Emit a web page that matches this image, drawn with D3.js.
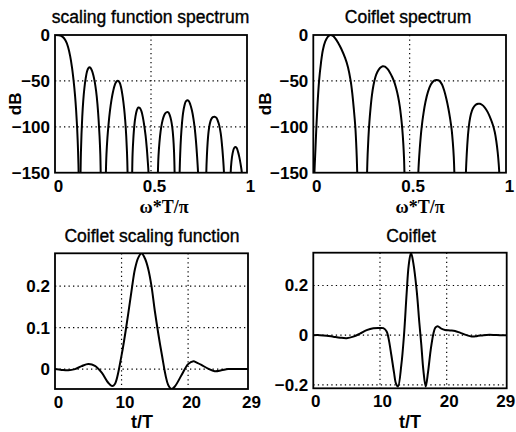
<!DOCTYPE html>
<html><head><meta charset="utf-8">
<script src="https://cdn.jsdelivr.net/npm/d3@7"></script>
<style>body{margin:0;background:#fff}</style>
</head><body><svg id="c" width="516" height="432"></svg>
<script>
// ---------- data ----------
const specXTicks = [0, 0.5, 1];
const specYTicks = [0, -50, -100, -150];
const timeXTicks = [0, 10, 20, 29];
const scalingYTicks = [0, 0.1, 0.2];
const waveletYTicks = [-0.2, 0, 0.2];

// scaling function spectrum lobes: [omega*T/pi, dB]
const sfLobe1 = [[0,0],[0.02,-0.4],[0.04,-2],[0.055,-6],[0.068,-13],[0.079,-23],[0.089,-36],[0.097,-50],[0.104,-65],[0.11,-82],[0.115,-100],[0.119,-120],[0.122,-140],[0.123,-150],[0.124,-165]];
const sfLobe2 = [[0.132,-165],[0.133,-150],[0.135,-128],[0.138,-108],[0.142,-89],[0.147,-72],[0.153,-58],[0.16,-47],[0.167,-39.5],[0.174,-36],[0.18,-35],[0.186,-36],[0.193,-39],[0.2,-44],[0.207,-51],[0.214,-61],[0.221,-75],[0.227,-92],[0.232,-110],[0.236,-130],[0.238,-150],[0.239,-165]];
const sfLobe3 = [[0.264,-165],[0.265,-150],[0.268,-130],[0.273,-112],[0.279,-97],[0.286,-83],[0.294,-71],[0.303,-61],[0.312,-54],[0.321,-50.5],[0.329,-50],[0.337,-52],[0.345,-58],[0.353,-68],[0.36,-80],[0.366,-94],[0.371,-110],[0.375,-128],[0.378,-150],[0.379,-165]];
const sfLobe4 = [[0.401,-165],[0.402,-150],[0.404,-130],[0.408,-113],[0.413,-99],[0.419,-89],[0.426,-82],[0.434,-79],[0.442,-79.5],[0.45,-83],[0.458,-90],[0.465,-99],[0.472,-110],[0.478,-123],[0.483,-137],[0.487,-150],[0.488,-165]];
const sfLobe5 = [[0.535,-165],[0.536,-150],[0.539,-132],[0.544,-117],[0.55,-105],[0.557,-96],[0.565,-89.5],[0.574,-85.5],[0.583,-84],[0.591,-84.5],[0.598,-87.5],[0.605,-93],[0.611,-101],[0.616,-112],[0.62,-127],[0.623,-150],[0.624,-165]];
const sfLobe6 = [[0.648,-165],[0.649,-150],[0.652,-130],[0.656,-112],[0.661,-97],[0.667,-85],[0.674,-77],[0.681,-72.5],[0.689,-71],[0.697,-72],[0.705,-76],[0.713,-82],[0.721,-91],[0.728,-102],[0.734,-115],[0.739,-129],[0.743,-142],[0.745,-150],[0.746,-165]];
const sfLobe7 = [[0.787,-165],[0.788,-150],[0.791,-132],[0.795,-117],[0.8,-105],[0.806,-97],[0.813,-92],[0.822,-89.5],[0.831,-89],[0.84,-90],[0.848,-93.5],[0.856,-99],[0.863,-107],[0.869,-118],[0.875,-133],[0.88,-150],[0.881,-165]];
const sfLobe8 = [[0.914,-165],[0.915,-150],[0.919,-138],[0.925,-129],[0.932,-123.5],[0.939,-122],[0.946,-123],[0.953,-127],[0.96,-133],[0.967,-141],[0.973,-150],[0.974,-165]];

// Coiflet spectrum lobes
const cwLobe1 = [[0.005,-165],[0.006,-150],[0.011,-125],[0.016,-100],[0.022,-75],[0.03,-50],[0.04,-30],[0.05,-16],[0.062,-7],[0.075,-2],[0.088,0],[0.1,-0.6],[0.115,-4],[0.13,-9],[0.145,-15],[0.165,-25],[0.18,-35],[0.194,-50],[0.203,-65],[0.21,-80],[0.218,-100],[0.224,-125],[0.228,-150],[0.229,-165]];
const cwLobe2 = [[0.278,-165],[0.279,-150],[0.282,-130],[0.286,-112],[0.291,-95],[0.297,-80],[0.304,-66],[0.312,-55],[0.322,-46],[0.333,-40],[0.346,-36],[0.36,-34],[0.372,-34.5],[0.385,-37],[0.398,-41],[0.41,-46],[0.42,-51],[0.43,-58],[0.44,-67],[0.449,-78],[0.456,-90],[0.462,-103],[0.467,-118],[0.471,-135],[0.473,-150],[0.474,-165]];
const cwLobe3 = [[0.544,-165],[0.545,-150],[0.552,-125],[0.5625,-100],[0.572,-85],[0.582,-73],[0.595,-62],[0.61,-54],[0.625,-50],[0.64,-49],[0.655,-50],[0.668,-54],[0.68,-61],[0.691,-70],[0.701,-80],[0.71,-91],[0.718,-103],[0.724,-117],[0.729,-133],[0.732,-150],[0.733,-165]];
const cwLobe4 = [[0.791,-165],[0.792,-150],[0.795,-135],[0.799,-120],[0.804,-106],[0.81,-95],[0.818,-86],[0.828,-80],[0.84,-76.5],[0.855,-75],[0.865,-75],[0.875,-76],[0.89,-79],[0.905,-84],[0.92,-91],[0.932,-98],[0.942,-106],[0.95,-116],[0.957,-128],[0.962,-140],[0.965,-150],[0.966,-165]];

// Coiflet scaling function samples
const tScaling = [0,1,2,3,4,5,6,7,8,8.6,9,10,11,11.6,12,12.5,13,13.5,14,14.5,15,16,17,17.5,18,19,20,20.8,21,22,23,24,25,26,27,28,29];
const scalingValues = [0,-0.002,-0.003,0,0.007,0.012,0.008,-0.008,-0.033,-0.041,-0.036,0.033,0.133,0.2,0.24,0.268,0.279,0.267,0.242,0.2,0.14,0.04,-0.038,-0.048,-0.042,-0.015,0.012,0.019,0.018,0.01,0.001,-0.005,-0.003,0,0,0,0];

// Coiflet wavelet samples
const tWavelet = [0,1,2,3,4,5,6,7,8,9,10,10.5,11,11.3,11.7,12.1,12.4,12.7,13.2,13.6,14,14.3,14.65,15,15.5,15.9,16.2,16.5,16.85,17.2,17.6,18,18.3,18.65,19.2,19.75,20.5,21.25,22,23,23.75,24.5,25.5,26,27,28,29];
const waveletValues = [0,0,-0.002,-0.006,-0.01,-0.012,-0.006,0.006,0.02,0.028,0.029,0.028,0.015,-0.015,-0.08,-0.15,-0.195,-0.207,-0.12,0,0.17,0.28,0.332,0.29,0.18,0.05,-0.04,-0.14,-0.207,-0.15,-0.06,0.005,0.03,0.036,0.026,0.021,0.019,0.017,0.01,0,-0.005,-0.004,0,0.001,0.001,0,0];

// ---------- drawing ----------
const svg = d3.select("#c");
const FONT = "'Liberation Sans', Arial, Helvetica, sans-serif";
const SERIF = "'Liberation Serif', 'Times New Roman', serif";
let clipId = 0;

function panel(o) {
  const x = d3.scaleLinear().domain(o.xDomain).range([o.x0, o.x1]);
  const y = d3.scaleLinear().domain(o.yDomain).range([o.y1, o.y0]);
  const g = svg.append("g");
  const id = "clip" + (clipId++);
  g.append("clipPath").attr("id", id).append("rect")
    .attr("x", o.x0).attr("y", o.y0).attr("width", o.x1 - o.x0).attr("height", o.y1 - o.y0);

  // grid
  g.selectAll(null).data(o.xGrid).join("line")
    .attr("x1", d => x(d)).attr("x2", d => x(d)).attr("y1", o.y0).attr("y2", o.y1)
    .attr("stroke", "#000").attr("stroke-width", 1.2).attr("stroke-dasharray", "1.3,3.2");
  g.selectAll(null).data(o.yGrid).join("line")
    .attr("y1", d => y(d)).attr("y2", d => y(d)).attr("x1", o.x0).attr("x2", o.x1)
    .attr("stroke", "#000").attr("stroke-width", 1.2).attr("stroke-dasharray", "1.3,3.2");

  // curves
  const line = d3.line().x(d => x(d[0])).y(d => y(d[1])).curve(d3.curveCatmullRom.alpha(0.5));
  g.append("g").attr("clip-path", `url(#${id})`)
    .selectAll("path").data(o.series).join("path")
    .attr("d", line).attr("fill", "none").attr("stroke", "#000")
    .attr("stroke-width", 2).attr("stroke-linejoin", "round");

  // box
  g.append("rect").attr("x", o.x0).attr("y", o.y0)
    .attr("width", o.x1 - o.x0).attr("height", o.y1 - o.y0)
    .attr("fill", "none").attr("stroke", "#000").attr("stroke-width", 1.8);

  // axes (labels only)
  const fmt = d3.format("");
  const ax = g.append("g").attr("transform", `translate(0,${o.y1})`)
    .call(d3.axisBottom(x).tickValues(o.xTicks).tickSize(0).tickPadding(0).tickFormat(fmt));
  ax.select(".domain").remove();
  const lastTick = o.xTicks[o.xTicks.length - 1];
  ax.selectAll("text").attr("dy", null).attr("y", 19)
    .attr("dx", d => (d === lastTick && o.lastDx !== undefined) ? o.lastDx : (o.xdx || 0))
    .attr("font-family", FONT).attr("font-size", 17).attr("font-weight", "bold").attr("fill", "#000");
  const ay = g.append("g").attr("transform", `translate(${o.x0},0)`)
    .call(d3.axisLeft(y).tickValues(o.yTicks).tickSize(0).tickPadding(5).tickFormat(fmt));
  ay.select(".domain").remove();
  ay.selectAll("text").attr("font-family", FONT).attr("font-size", 17).attr("font-weight", "bold").attr("fill", "#000");

  // title
  g.append("text").attr("x", o.titleX).attr("y", o.titleY).attr("text-anchor", "middle")
    .attr("font-family", FONT).attr("font-size", 17.5).attr("fill", "#000")
    .attr("stroke", "#000").attr("stroke-width", 0.35).text(o.title);
  // x label
  g.append("text").attr("x", o.xlabX).attr("y", o.xlabY).attr("text-anchor", "middle")
    .attr("font-family", o.xlabFont).attr("font-size", o.xlabSize).attr("font-weight", "bold")
    .attr("fill", "#000").text(o.xlabel);
  if (o.ylabel) {
    g.append("text").attr("transform", `translate(${o.ylabX},${(o.y0 + o.y1) / 2}) rotate(-90)`)
      .attr("text-anchor", "middle").attr("font-family", FONT).attr("font-size", 17)
      .attr("font-weight", "bold").attr("fill", "#000").text(o.ylabel);
  }
}

panel({x0: 55, x1: 247, y0: 35, y1: 172.7, xDomain: [0, 1], yDomain: [-150, 0],
  xTicks: specXTicks, yTicks: specYTicks, xGrid: [0.5], yGrid: [-50, -100], xdx: 3,
  series: [sfLobe1, sfLobe2, sfLobe3, sfLobe4, sfLobe5, sfLobe6, sfLobe7, sfLobe8],
  title: "scaling function spectrum", titleX: 150.5, titleY: 23,
  xlabel: "ω*T/π", xlabX: 164, xlabY: 213, xlabFont: SERIF, xlabSize: 18,
  ylabel: "dB", ylabX: 21});

panel({x0: 313.3, x1: 506, y0: 35, y1: 172.7, xDomain: [0, 1], yDomain: [-150, 0],
  xTicks: specXTicks, yTicks: specYTicks, xGrid: [0.5], yGrid: [-50, -100], xdx: 3,
  series: [cwLobe1, cwLobe2, cwLobe3, cwLobe4],
  title: "Coiflet spectrum", titleX: 408, titleY: 23,
  xlabel: "ω*T/π", xlabX: 420, xlabY: 213, xlabFont: SERIF, xlabSize: 18,
  ylabel: "dB", ylabX: 271});

panel({x0: 55, x1: 248, y0: 253.3, y1: 389, xDomain: [0, 29], yDomain: [-0.048, 0.279],
  xTicks: timeXTicks, yTicks: scalingYTicks, xGrid: [10, 20], yGrid: [0, 0.1, 0.2], xdx: 3,
  series: [tScaling.map((t, i) => [t, scalingValues[i]])],
  title: "Coiflet scaling function", titleX: 152, titleY: 242,
  xlabel: "t/T", xlabX: 142, xlabY: 428, xlabFont: FONT, xlabSize: 18});

panel({x0: 313.3, x1: 506.7, y0: 252.7, y1: 388.3, xDomain: [0, 29], yDomain: [-0.214, 0.332],
  xTicks: timeXTicks, yTicks: waveletYTicks, xGrid: [10, 20], yGrid: [-0.2, 0, 0.2], xdx: 2, lastDx: -1.5,
  series: [tWavelet.map((t, i) => [t, waveletValues[i]])],
  title: "Coiflet", titleX: 411, titleY: 242,
  xlabel: "t/T", xlabX: 410, xlabY: 428, xlabFont: FONT, xlabSize: 18});
</script></body></html>
